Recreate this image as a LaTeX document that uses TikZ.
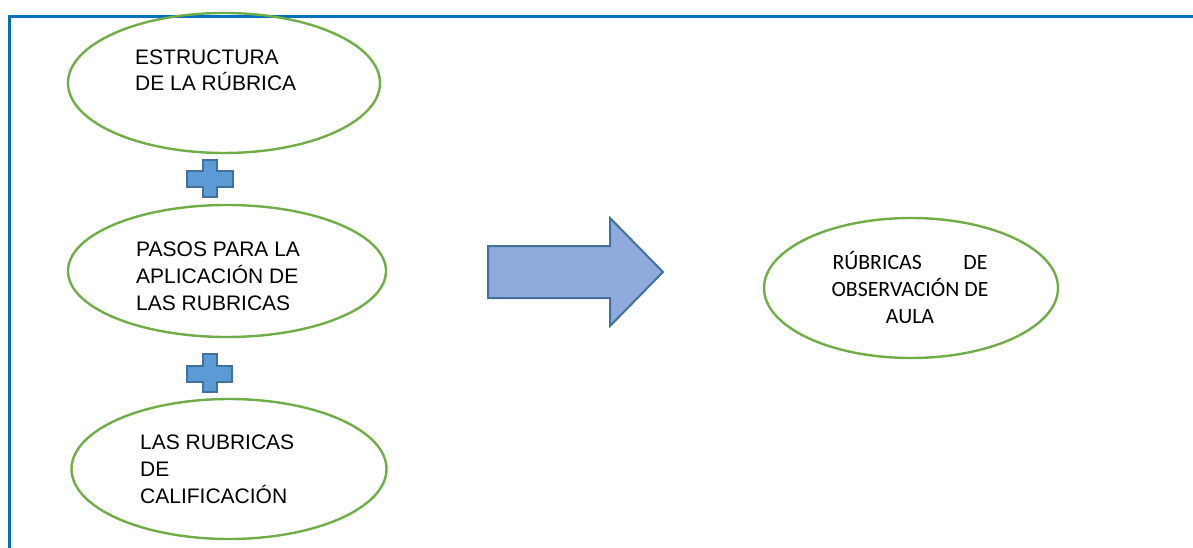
\documentclass[tikz,border=0pt]{standalone}
\usepackage{fontspec}
\setmainfont{Liberation Sans}
\newfontfamily\calib{Carlito}
\usetikzlibrary{shapes.geometric}
\definecolor{frameblue}{HTML}{0070C0}
\definecolor{ellgreen}{HTML}{70AD47}
\definecolor{plusfill}{HTML}{5B9BD5}
\definecolor{plusline}{HTML}{41719C}
\definecolor{arrowfill}{HTML}{8FAADC}
\tikzset{
  oval/.style={ellipse, draw=ellgreen, line width=2.4pt, inner sep=0pt},
  lefttext/.style={anchor=base west, align=left, inner sep=0pt, font=\fontsize{21}{26.8}\selectfont},
  plusshape/.style={fill=plusfill, draw=plusline, line width=2pt, line join=miter},
  bigarrow/.style={fill=arrowfill, draw=plusline, line width=2pt, line join=miter},
}
\begin{document}
\begin{tikzpicture}[x=1pt,y=-1pt]
\useasboundingbox (0,0) rectangle (1193,548);
% frame
\draw[frameblue, line width=3pt] (9.5,548) -- (9.5,16.5) -- (1193,16.5);
% ellipses
\node[oval, minimum width=312pt, minimum height=140pt] (e1) at (224,83) {};
\node[oval, minimum width=318pt, minimum height=132pt] (e2) at (227,271) {};
\node[oval, minimum width=315pt, minimum height=140pt] (e3) at (229,469) {};
\node[oval, minimum width=294pt, minimum height=140pt] (e4) at (911,288) {};
% texts (anchored at the baseline of the last line)
\node[lefttext] (t1) at (135,91) {ESTRUCTURA\\DE LA RÚBRICA};
\node[lefttext] (t2) at (136,310) {PASOS PARA LA\\APLICACIÓN DE\\LAS RUBRICAS};
\node[lefttext] (t3) at (140,503) {LAS RUBRICAS\\DE\\CALIFICACIÓN};
\node[anchor=base, align=center, inner sep=0pt, font=\calib\fontsize{21.8}{27}\selectfont] (t4) at (910,323)
  {\makebox[155pt][s]{RÚBRICAS\hfill DE}\\OBSERVACIÓN DE\\AULA};
% plus signs
\draw[plusshape] (203,160) -- (217,160) -- (217,171.5) -- (233,171.5) -- (233,187) -- (217,187) -- (217,197) -- (203,197) -- (203,187) -- (187,187) -- (187,171.5) -- (203,171.5) -- cycle;
\draw[plusshape] (203,354) -- (217,354) -- (217,366) -- (232,366) -- (232,382) -- (217,382) -- (217,392) -- (203,392) -- (203,382) -- (187,382) -- (187,366) -- (203,366) -- cycle;
% big arrow
\draw[bigarrow] (488,246) -- (610,246) -- (610,218) -- (663,272) -- (610,326) -- (610,298) -- (488,298) -- cycle;
\end{tikzpicture}
\end{document}
